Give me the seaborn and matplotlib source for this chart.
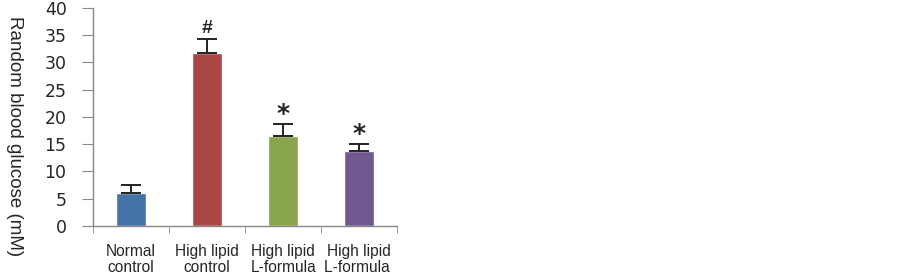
import numpy as np
import pandas as pd
import matplotlib
matplotlib.use('Agg')
import matplotlib.pyplot as plt
import seaborn as sns

groups = ["Normal\ncontrol", "High lipid\ncontrol", "High lipid\nL-formula", "High lipid\nL-formula "]
glucose = [6.0, 31.7, 16.5, 13.8]
sem = [1.45, 2.5, 2.2, 1.2]
marks = ["", "#", "*", "*"]
colors = ["#4572A7", "#AA4643", "#89A54E", "#71588F"]

df = pd.DataFrame({"group": groups, "glucose": glucose})

sns.set_style("white")
plt.rcParams['font.family'] = ['Liberation Sans', 'DejaVu Sans']

fig = plt.figure(figsize=(9.03, 2.79), dpi=100)
ax = fig.add_axes([0.103, 0.19, 0.337, 0.782])

sns.barplot(data=df, x="group", y="glucose", hue="group", palette=colors,
            width=0.39, legend=False, ax=ax, errorbar=None, saturation=1)

x = np.arange(len(groups))
ax.errorbar(x, glucose, yerr=[np.zeros(len(sem)), sem], fmt="none",
            ecolor="#222222", elinewidth=1.4, capsize=7, capthick=1.4)
for xi, m, g, s in zip(x, marks, glucose, sem):
    if m == "#":
        ax.text(xi, g + s + 0.4, m, ha="center", va="bottom", fontsize=14,
                fontweight="bold")
    elif m == "*":
        ax.text(xi, g + s - 0.3, m, ha="center", va="bottom", fontsize=18,
                fontweight="bold", family="DejaVu Sans")

ax.set_xlim(-0.5, 3.5)
ax.set_ylim(0, 40)
ax.set_yticks(range(0, 41, 5))
ax.set_yticklabels([str(v) for v in range(0, 41, 5)], family="DejaVu Sans")
ax.tick_params(axis="y", labelsize=12.5, length=8, color="#888888",
               direction="out", left=True, pad=11)
ax.set_xticks(x)
ax.set_xticklabels(groups, fontsize=11.2, linespacing=1.05)
ax.set_xticks(np.arange(-0.5, 4, 1), minor=True)
ax.tick_params(axis="x", which="major", length=0, pad=13)
ax.tick_params(axis="x", which="minor", length=5, color="#888888",
               direction="out", bottom=True)
ax.set_xlabel("")
ax.set_ylabel("Random blood glucose (mM)", fontsize=13.5, rotation=270,
              labelpad=0, va="center")
ax.yaxis.set_label_coords(-0.257, 0.41)

for side in ["top", "right"]:
    ax.spines[side].set_visible(False)
for side in ["left", "bottom"]:
    ax.spines[side].set_color("#888888")
    ax.spines[side].set_linewidth(1)

fig.savefig("out.png", dpi=100)
plt.close(fig)
